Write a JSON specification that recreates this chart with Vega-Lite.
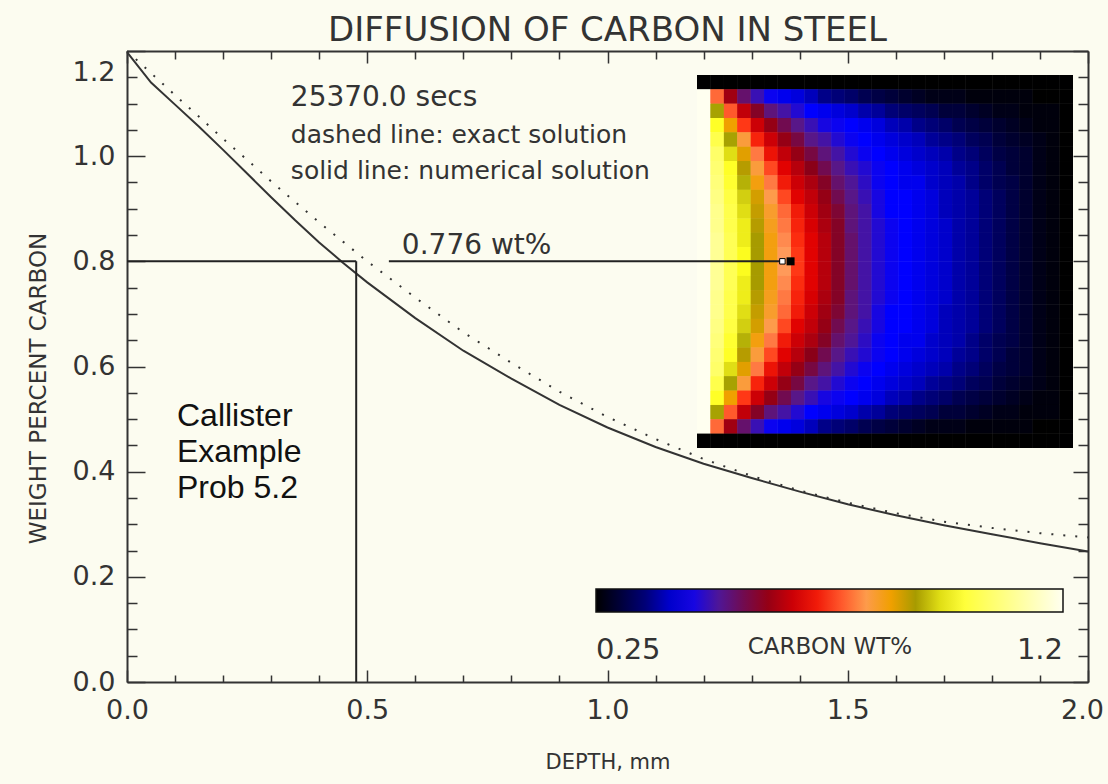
{
"$schema": "https://vega.github.io/schema/vega-lite/v6.json",
"width": 961,
"height": 631,
"autosize": {"type": "none"},
"padding": {"left": 127, "top": 51, "right": 20, "bottom": 102},
"background": "#fcfcf0",
"config": {"view": {"stroke": null}, "axis": {"grid": false, "labelFont": "DejaVu Sans", "titleFont": "DejaVu Sans"}, "legend": {"labelFont": "DejaVu Sans", "titleFont": "DejaVu Sans"}},
"title": {"text": "DIFFUSION OF CARBON IN STEEL", "fontSize": 34, "font": "DejaVu Sans", "fontWeight": "normal", "color": "#333333", "offset": -1, "anchor": "middle"},
"datasets": {
"exact": [{"d":0,"w":1.2},{"d":0.05,"w":1.158},{"d":0.1,"w":1.116},{"d":0.15,"w":1.075},{"d":0.2,"w":1.033},{"d":0.25,"w":0.993},{"d":0.3,"w":0.952},{"d":0.35,"w":0.913},{"d":0.4,"w":0.874},{"d":0.45,"w":0.837},{"d":0.5,"w":0.8},{"d":0.6,"w":0.731},{"d":0.7,"w":0.665},{"d":0.8,"w":0.607},{"d":0.9,"w":0.552},{"d":1.0,"w":0.504},{"d":1.1,"w":0.462},{"d":1.2,"w":0.424},{"d":1.3,"w":0.392},{"d":1.4,"w":0.364},{"d":1.5,"w":0.341},{"d":1.6,"w":0.321},{"d":1.7,"w":0.305},{"d":1.8,"w":0.293},{"d":1.9,"w":0.283},{"d":2.0,"w":0.275}],
"numerical": [{"d":0,"w":1.198},{"d":0.05,"w":1.14},{"d":0.1,"w":1.098},{"d":0.15,"w":1.056},{"d":0.2,"w":1.012},{"d":0.25,"w":0.967},{"d":0.3,"w":0.922},{"d":0.35,"w":0.878},{"d":0.4,"w":0.836},{"d":0.45,"w":0.797},{"d":0.5,"w":0.76},{"d":0.6,"w":0.692},{"d":0.7,"w":0.63},{"d":0.8,"w":0.577},{"d":0.9,"w":0.527},{"d":1.0,"w":0.484},{"d":1.1,"w":0.447},{"d":1.2,"w":0.415},{"d":1.3,"w":0.388},{"d":1.4,"w":0.362},{"d":1.5,"w":0.338},{"d":1.6,"w":0.317},{"d":1.7,"w":0.298},{"d":1.8,"w":0.281},{"d":1.9,"w":0.264},{"d":2.0,"w":0.248}],
"guides": [{"d1":0,"d2":0.477,"w1":0.8,"w2":0.8},{"d1":0.477,"d2":0.477,"w1":0.8,"w2":0},{"d1":0.545,"d2":1.359,"w1":0.8,"w2":0.8}],
"mark_fill": [{"d":1.381,"w":0.8}],
"mark_open": [{"d":1.364,"w":0.8}],
"label_time": [{"d":0.341,"w":1.095,"label":"25370.0 secs"}],
"label_lines": [{"d":0.341,"w":1.0247,"label":"dashed line: exact solution"},{"d":0.341,"w":0.956,"label":"solid line: numerical solution"}],
"label_wt": [{"d":0.572,"w":0.814,"label":"0.776 wt%"}],
"label_prob": [{"d":0.104,"w":0.4877,"label":"Callister"},{"d":0.104,"w":0.4175,"label":"Example"},{"d":0.104,"w":0.349,"label":"Prob 5.2"}],
"field": [
{"c":0,"r":0,"v":0.25},{"c":1,"r":0,"v":0.25},{"c":2,"r":0,"v":0.25},{"c":3,"r":0,"v":0.25},{"c":4,"r":0,"v":0.25},{"c":5,"r":0,"v":0.25},{"c":6,"r":0,"v":0.25},{"c":7,"r":0,"v":0.25},{"c":8,"r":0,"v":0.25},{"c":9,"r":0,"v":0.25},{"c":10,"r":0,"v":0.25},{"c":11,"r":0,"v":0.25},{"c":12,"r":0,"v":0.25},{"c":13,"r":0,"v":0.25},{"c":14,"r":0,"v":0.25},{"c":15,"r":0,"v":0.25},{"c":16,"r":0,"v":0.25},{"c":17,"r":0,"v":0.25},{"c":18,"r":0,"v":0.25},{"c":19,"r":0,"v":0.25},{"c":20,"r":0,"v":0.25},{"c":21,"r":0,"v":0.25},{"c":22,"r":0,"v":0.25},{"c":23,"r":0,"v":0.25},{"c":24,"r":0,"v":0.25},{"c":25,"r":0,"v":0.25},{"c":26,"r":0,"v":0.25},{"c":27,"r":0,"v":0.25},
{"c":0,"r":1,"v":1.2},{"c":1,"r":1,"v":0.76},{"c":2,"r":1,"v":0.61},{"c":3,"r":1,"v":0.53},{"c":4,"r":1,"v":0.48},{"c":5,"r":1,"v":0.44},{"c":6,"r":1,"v":0.42},{"c":7,"r":1,"v":0.41},{"c":8,"r":1,"v":0.39},{"c":9,"r":1,"v":0.36},{"c":10,"r":1,"v":0.35},{"c":11,"r":1,"v":0.34},{"c":12,"r":1,"v":0.32},{"c":13,"r":1,"v":0.31},{"c":14,"r":1,"v":0.3},{"c":15,"r":1,"v":0.29},{"c":16,"r":1,"v":0.28},{"c":17,"r":1,"v":0.27},{"c":18,"r":1,"v":0.27},{"c":19,"r":1,"v":0.27},{"c":20,"r":1,"v":0.26},{"c":21,"r":1,"v":0.26},{"c":22,"r":1,"v":0.26},{"c":23,"r":1,"v":0.26},{"c":24,"r":1,"v":0.26},{"c":25,"r":1,"v":0.25},{"c":26,"r":1,"v":0.25},{"c":27,"r":1,"v":0.25},
{"c":0,"r":2,"v":1.2},{"c":1,"r":2,"v":0.91},{"c":2,"r":2,"v":0.75},{"c":3,"r":2,"v":0.64},{"c":4,"r":2,"v":0.58},{"c":5,"r":2,"v":0.52},{"c":6,"r":2,"v":0.49},{"c":7,"r":2,"v":0.46},{"c":8,"r":2,"v":0.43},{"c":9,"r":2,"v":0.42},{"c":10,"r":2,"v":0.41},{"c":11,"r":2,"v":0.4},{"c":12,"r":2,"v":0.38},{"c":13,"r":2,"v":0.37},{"c":14,"r":2,"v":0.35},{"c":15,"r":2,"v":0.34},{"c":16,"r":2,"v":0.33},{"c":17,"r":2,"v":0.32},{"c":18,"r":2,"v":0.3},{"c":19,"r":2,"v":0.3},{"c":20,"r":2,"v":0.29},{"c":21,"r":2,"v":0.28},{"c":22,"r":2,"v":0.27},{"c":23,"r":2,"v":0.27},{"c":24,"r":2,"v":0.26},{"c":25,"r":2,"v":0.26},{"c":26,"r":2,"v":0.26},{"c":27,"r":2,"v":0.25},
{"c":0,"r":3,"v":1.2},{"c":1,"r":3,"v":0.98},{"c":2,"r":3,"v":0.85},{"c":3,"r":3,"v":0.73},{"c":4,"r":3,"v":0.65},{"c":5,"r":3,"v":0.6},{"c":6,"r":3,"v":0.55},{"c":7,"r":3,"v":0.51},{"c":8,"r":3,"v":0.48},{"c":9,"r":3,"v":0.45},{"c":10,"r":3,"v":0.44},{"c":11,"r":3,"v":0.43},{"c":12,"r":3,"v":0.42},{"c":13,"r":3,"v":0.41},{"c":14,"r":3,"v":0.39},{"c":15,"r":3,"v":0.38},{"c":16,"r":3,"v":0.36},{"c":17,"r":3,"v":0.35},{"c":18,"r":3,"v":0.34},{"c":19,"r":3,"v":0.32},{"c":20,"r":3,"v":0.31},{"c":21,"r":3,"v":0.3},{"c":22,"r":3,"v":0.29},{"c":23,"r":3,"v":0.28},{"c":24,"r":3,"v":0.27},{"c":25,"r":3,"v":0.26},{"c":26,"r":3,"v":0.26},{"c":27,"r":3,"v":0.25},
{"c":0,"r":4,"v":1.2},{"c":1,"r":4,"v":1.02},{"c":2,"r":4,"v":0.91},{"c":3,"r":4,"v":0.81},{"c":4,"r":4,"v":0.71},{"c":5,"r":4,"v":0.65},{"c":6,"r":4,"v":0.6},{"c":7,"r":4,"v":0.56},{"c":8,"r":4,"v":0.51},{"c":9,"r":4,"v":0.49},{"c":10,"r":4,"v":0.46},{"c":11,"r":4,"v":0.44},{"c":12,"r":4,"v":0.43},{"c":13,"r":4,"v":0.42},{"c":14,"r":4,"v":0.41},{"c":15,"r":4,"v":0.4},{"c":16,"r":4,"v":0.39},{"c":17,"r":4,"v":0.37},{"c":18,"r":4,"v":0.36},{"c":19,"r":4,"v":0.35},{"c":20,"r":4,"v":0.33},{"c":21,"r":4,"v":0.32},{"c":22,"r":4,"v":0.3},{"c":23,"r":4,"v":0.29},{"c":24,"r":4,"v":0.28},{"c":25,"r":4,"v":0.27},{"c":26,"r":4,"v":0.26},{"c":27,"r":4,"v":0.25},
{"c":0,"r":5,"v":1.2},{"c":1,"r":5,"v":1.05},{"c":2,"r":5,"v":0.95},{"c":3,"r":5,"v":0.86},{"c":4,"r":5,"v":0.77},{"c":5,"r":5,"v":0.69},{"c":6,"r":5,"v":0.64},{"c":7,"r":5,"v":0.6},{"c":8,"r":5,"v":0.56},{"c":9,"r":5,"v":0.52},{"c":10,"r":5,"v":0.49},{"c":11,"r":5,"v":0.46},{"c":12,"r":5,"v":0.44},{"c":13,"r":5,"v":0.43},{"c":14,"r":5,"v":0.42},{"c":15,"r":5,"v":0.41},{"c":16,"r":5,"v":0.4},{"c":17,"r":5,"v":0.39},{"c":18,"r":5,"v":0.38},{"c":19,"r":5,"v":0.36},{"c":20,"r":5,"v":0.35},{"c":21,"r":5,"v":0.33},{"c":22,"r":5,"v":0.31},{"c":23,"r":5,"v":0.3},{"c":24,"r":5,"v":0.29},{"c":25,"r":5,"v":0.27},{"c":26,"r":5,"v":0.26},{"c":27,"r":5,"v":0.25},
{"c":0,"r":6,"v":1.2},{"c":1,"r":6,"v":1.06},{"c":2,"r":6,"v":0.98},{"c":3,"r":6,"v":0.89},{"c":4,"r":6,"v":0.81},{"c":5,"r":6,"v":0.74},{"c":6,"r":6,"v":0.67},{"c":7,"r":6,"v":0.63},{"c":8,"r":6,"v":0.59},{"c":9,"r":6,"v":0.55},{"c":10,"r":6,"v":0.51},{"c":11,"r":6,"v":0.48},{"c":12,"r":6,"v":0.46},{"c":13,"r":6,"v":0.44},{"c":14,"r":6,"v":0.43},{"c":15,"r":6,"v":0.42},{"c":16,"r":6,"v":0.41},{"c":17,"r":6,"v":0.4},{"c":18,"r":6,"v":0.39},{"c":19,"r":6,"v":0.37},{"c":20,"r":6,"v":0.36},{"c":21,"r":6,"v":0.34},{"c":22,"r":6,"v":0.32},{"c":23,"r":6,"v":0.3},{"c":24,"r":6,"v":0.29},{"c":25,"r":6,"v":0.27},{"c":26,"r":6,"v":0.26},{"c":27,"r":6,"v":0.25},
{"c":0,"r":7,"v":1.2},{"c":1,"r":7,"v":1.07},{"c":2,"r":7,"v":0.99},{"c":3,"r":7,"v":0.92},{"c":4,"r":7,"v":0.84},{"c":5,"r":7,"v":0.77},{"c":6,"r":7,"v":0.7},{"c":7,"r":7,"v":0.65},{"c":8,"r":7,"v":0.62},{"c":9,"r":7,"v":0.58},{"c":10,"r":7,"v":0.53},{"c":11,"r":7,"v":0.5},{"c":12,"r":7,"v":0.47},{"c":13,"r":7,"v":0.44},{"c":14,"r":7,"v":0.43},{"c":15,"r":7,"v":0.42},{"c":16,"r":7,"v":0.42},{"c":17,"r":7,"v":0.4},{"c":18,"r":7,"v":0.39},{"c":19,"r":7,"v":0.38},{"c":20,"r":7,"v":0.36},{"c":21,"r":7,"v":0.34},{"c":22,"r":7,"v":0.32},{"c":23,"r":7,"v":0.31},{"c":24,"r":7,"v":0.29},{"c":25,"r":7,"v":0.27},{"c":26,"r":7,"v":0.26},{"c":27,"r":7,"v":0.25},
{"c":0,"r":8,"v":1.2},{"c":1,"r":8,"v":1.08},{"c":2,"r":8,"v":1.01},{"c":3,"r":8,"v":0.94},{"c":4,"r":8,"v":0.87},{"c":5,"r":8,"v":0.8},{"c":6,"r":8,"v":0.74},{"c":7,"r":8,"v":0.67},{"c":8,"r":8,"v":0.64},{"c":9,"r":8,"v":0.6},{"c":10,"r":8,"v":0.55},{"c":11,"r":8,"v":0.51},{"c":12,"r":8,"v":0.48},{"c":13,"r":8,"v":0.45},{"c":14,"r":8,"v":0.43},{"c":15,"r":8,"v":0.43},{"c":16,"r":8,"v":0.42},{"c":17,"r":8,"v":0.41},{"c":18,"r":8,"v":0.39},{"c":19,"r":8,"v":0.38},{"c":20,"r":8,"v":0.37},{"c":21,"r":8,"v":0.35},{"c":22,"r":8,"v":0.33},{"c":23,"r":8,"v":0.31},{"c":24,"r":8,"v":0.29},{"c":25,"r":8,"v":0.27},{"c":26,"r":8,"v":0.26},{"c":27,"r":8,"v":0.25},
{"c":0,"r":9,"v":1.2},{"c":1,"r":9,"v":1.09},{"c":2,"r":9,"v":1.02},{"c":3,"r":9,"v":0.95},{"c":4,"r":9,"v":0.88},{"c":5,"r":9,"v":0.82},{"c":6,"r":9,"v":0.76},{"c":7,"r":9,"v":0.7},{"c":8,"r":9,"v":0.65},{"c":9,"r":9,"v":0.61},{"c":10,"r":9,"v":0.57},{"c":11,"r":9,"v":0.52},{"c":12,"r":9,"v":0.49},{"c":13,"r":9,"v":0.45},{"c":14,"r":9,"v":0.43},{"c":15,"r":9,"v":0.43},{"c":16,"r":9,"v":0.42},{"c":17,"r":9,"v":0.41},{"c":18,"r":9,"v":0.39},{"c":19,"r":9,"v":0.38},{"c":20,"r":9,"v":0.37},{"c":21,"r":9,"v":0.35},{"c":22,"r":9,"v":0.33},{"c":23,"r":9,"v":0.31},{"c":24,"r":9,"v":0.29},{"c":25,"r":9,"v":0.27},{"c":26,"r":9,"v":0.26},{"c":27,"r":9,"v":0.25},
{"c":0,"r":10,"v":1.2},{"c":1,"r":10,"v":1.09},{"c":2,"r":10,"v":1.02},{"c":3,"r":10,"v":0.96},{"c":4,"r":10,"v":0.89},{"c":5,"r":10,"v":0.83},{"c":6,"r":10,"v":0.77},{"c":7,"r":10,"v":0.71},{"c":8,"r":10,"v":0.66},{"c":9,"r":10,"v":0.62},{"c":10,"r":10,"v":0.58},{"c":11,"r":10,"v":0.52},{"c":12,"r":10,"v":0.49},{"c":13,"r":10,"v":0.46},{"c":14,"r":10,"v":0.44},{"c":15,"r":10,"v":0.43},{"c":16,"r":10,"v":0.42},{"c":17,"r":10,"v":0.41},{"c":18,"r":10,"v":0.4},{"c":19,"r":10,"v":0.38},{"c":20,"r":10,"v":0.37},{"c":21,"r":10,"v":0.35},{"c":22,"r":10,"v":0.33},{"c":23,"r":10,"v":0.31},{"c":24,"r":10,"v":0.29},{"c":25,"r":10,"v":0.27},{"c":26,"r":10,"v":0.26},{"c":27,"r":10,"v":0.25},
{"c":0,"r":11,"v":1.2},{"c":1,"r":11,"v":1.1},{"c":2,"r":11,"v":1.03},{"c":3,"r":11,"v":0.96},{"c":4,"r":11,"v":0.9},{"c":5,"r":11,"v":0.84},{"c":6,"r":11,"v":0.78},{"c":7,"r":11,"v":0.72},{"c":8,"r":11,"v":0.67},{"c":9,"r":11,"v":0.63},{"c":10,"r":11,"v":0.58},{"c":11,"r":11,"v":0.53},{"c":12,"r":11,"v":0.49},{"c":13,"r":11,"v":0.46},{"c":14,"r":11,"v":0.44},{"c":15,"r":11,"v":0.43},{"c":16,"r":11,"v":0.42},{"c":17,"r":11,"v":0.41},{"c":18,"r":11,"v":0.4},{"c":19,"r":11,"v":0.38},{"c":20,"r":11,"v":0.37},{"c":21,"r":11,"v":0.35},{"c":22,"r":11,"v":0.33},{"c":23,"r":11,"v":0.31},{"c":24,"r":11,"v":0.29},{"c":25,"r":11,"v":0.27},{"c":26,"r":11,"v":0.26},{"c":27,"r":11,"v":0.25},
{"c":0,"r":12,"v":1.2},{"c":1,"r":12,"v":1.1},{"c":2,"r":12,"v":1.03},{"c":3,"r":12,"v":0.97},{"c":4,"r":12,"v":0.9},{"c":5,"r":12,"v":0.84},{"c":6,"r":12,"v":0.79},{"c":7,"r":12,"v":0.73},{"c":8,"r":12,"v":0.67},{"c":9,"r":12,"v":0.63},{"c":10,"r":12,"v":0.58},{"c":11,"r":12,"v":0.53},{"c":12,"r":12,"v":0.49},{"c":13,"r":12,"v":0.46},{"c":14,"r":12,"v":0.44},{"c":15,"r":12,"v":0.43},{"c":16,"r":12,"v":0.42},{"c":17,"r":12,"v":0.41},{"c":18,"r":12,"v":0.4},{"c":19,"r":12,"v":0.38},{"c":20,"r":12,"v":0.37},{"c":21,"r":12,"v":0.35},{"c":22,"r":12,"v":0.33},{"c":23,"r":12,"v":0.31},{"c":24,"r":12,"v":0.29},{"c":25,"r":12,"v":0.27},{"c":26,"r":12,"v":0.26},{"c":27,"r":12,"v":0.25},
{"c":0,"r":13,"v":1.2},{"c":1,"r":13,"v":1.1},{"c":2,"r":13,"v":1.03},{"c":3,"r":13,"v":0.97},{"c":4,"r":13,"v":0.9},{"c":5,"r":13,"v":0.84},{"c":6,"r":13,"v":0.79},{"c":7,"r":13,"v":0.73},{"c":8,"r":13,"v":0.67},{"c":9,"r":13,"v":0.63},{"c":10,"r":13,"v":0.58},{"c":11,"r":13,"v":0.53},{"c":12,"r":13,"v":0.49},{"c":13,"r":13,"v":0.46},{"c":14,"r":13,"v":0.44},{"c":15,"r":13,"v":0.43},{"c":16,"r":13,"v":0.42},{"c":17,"r":13,"v":0.41},{"c":18,"r":13,"v":0.4},{"c":19,"r":13,"v":0.38},{"c":20,"r":13,"v":0.37},{"c":21,"r":13,"v":0.35},{"c":22,"r":13,"v":0.33},{"c":23,"r":13,"v":0.31},{"c":24,"r":13,"v":0.29},{"c":25,"r":13,"v":0.27},{"c":26,"r":13,"v":0.26},{"c":27,"r":13,"v":0.25},
{"c":0,"r":14,"v":1.2},{"c":1,"r":14,"v":1.1},{"c":2,"r":14,"v":1.03},{"c":3,"r":14,"v":0.96},{"c":4,"r":14,"v":0.9},{"c":5,"r":14,"v":0.84},{"c":6,"r":14,"v":0.78},{"c":7,"r":14,"v":0.72},{"c":8,"r":14,"v":0.67},{"c":9,"r":14,"v":0.63},{"c":10,"r":14,"v":0.58},{"c":11,"r":14,"v":0.53},{"c":12,"r":14,"v":0.49},{"c":13,"r":14,"v":0.46},{"c":14,"r":14,"v":0.44},{"c":15,"r":14,"v":0.43},{"c":16,"r":14,"v":0.42},{"c":17,"r":14,"v":0.41},{"c":18,"r":14,"v":0.4},{"c":19,"r":14,"v":0.38},{"c":20,"r":14,"v":0.37},{"c":21,"r":14,"v":0.35},{"c":22,"r":14,"v":0.33},{"c":23,"r":14,"v":0.31},{"c":24,"r":14,"v":0.29},{"c":25,"r":14,"v":0.27},{"c":26,"r":14,"v":0.26},{"c":27,"r":14,"v":0.25},
{"c":0,"r":15,"v":1.2},{"c":1,"r":15,"v":1.09},{"c":2,"r":15,"v":1.02},{"c":3,"r":15,"v":0.96},{"c":4,"r":15,"v":0.89},{"c":5,"r":15,"v":0.83},{"c":6,"r":15,"v":0.77},{"c":7,"r":15,"v":0.71},{"c":8,"r":15,"v":0.66},{"c":9,"r":15,"v":0.62},{"c":10,"r":15,"v":0.58},{"c":11,"r":15,"v":0.52},{"c":12,"r":15,"v":0.49},{"c":13,"r":15,"v":0.46},{"c":14,"r":15,"v":0.44},{"c":15,"r":15,"v":0.43},{"c":16,"r":15,"v":0.42},{"c":17,"r":15,"v":0.41},{"c":18,"r":15,"v":0.4},{"c":19,"r":15,"v":0.38},{"c":20,"r":15,"v":0.37},{"c":21,"r":15,"v":0.35},{"c":22,"r":15,"v":0.33},{"c":23,"r":15,"v":0.31},{"c":24,"r":15,"v":0.29},{"c":25,"r":15,"v":0.27},{"c":26,"r":15,"v":0.26},{"c":27,"r":15,"v":0.25},
{"c":0,"r":16,"v":1.2},{"c":1,"r":16,"v":1.09},{"c":2,"r":16,"v":1.02},{"c":3,"r":16,"v":0.95},{"c":4,"r":16,"v":0.88},{"c":5,"r":16,"v":0.82},{"c":6,"r":16,"v":0.76},{"c":7,"r":16,"v":0.7},{"c":8,"r":16,"v":0.65},{"c":9,"r":16,"v":0.61},{"c":10,"r":16,"v":0.57},{"c":11,"r":16,"v":0.52},{"c":12,"r":16,"v":0.49},{"c":13,"r":16,"v":0.45},{"c":14,"r":16,"v":0.43},{"c":15,"r":16,"v":0.43},{"c":16,"r":16,"v":0.42},{"c":17,"r":16,"v":0.41},{"c":18,"r":16,"v":0.39},{"c":19,"r":16,"v":0.38},{"c":20,"r":16,"v":0.37},{"c":21,"r":16,"v":0.35},{"c":22,"r":16,"v":0.33},{"c":23,"r":16,"v":0.31},{"c":24,"r":16,"v":0.29},{"c":25,"r":16,"v":0.27},{"c":26,"r":16,"v":0.26},{"c":27,"r":16,"v":0.25},
{"c":0,"r":17,"v":1.2},{"c":1,"r":17,"v":1.08},{"c":2,"r":17,"v":1.01},{"c":3,"r":17,"v":0.94},{"c":4,"r":17,"v":0.87},{"c":5,"r":17,"v":0.8},{"c":6,"r":17,"v":0.74},{"c":7,"r":17,"v":0.67},{"c":8,"r":17,"v":0.64},{"c":9,"r":17,"v":0.6},{"c":10,"r":17,"v":0.55},{"c":11,"r":17,"v":0.51},{"c":12,"r":17,"v":0.48},{"c":13,"r":17,"v":0.45},{"c":14,"r":17,"v":0.43},{"c":15,"r":17,"v":0.43},{"c":16,"r":17,"v":0.42},{"c":17,"r":17,"v":0.41},{"c":18,"r":17,"v":0.39},{"c":19,"r":17,"v":0.38},{"c":20,"r":17,"v":0.37},{"c":21,"r":17,"v":0.35},{"c":22,"r":17,"v":0.33},{"c":23,"r":17,"v":0.31},{"c":24,"r":17,"v":0.29},{"c":25,"r":17,"v":0.27},{"c":26,"r":17,"v":0.26},{"c":27,"r":17,"v":0.25},
{"c":0,"r":18,"v":1.2},{"c":1,"r":18,"v":1.07},{"c":2,"r":18,"v":0.99},{"c":3,"r":18,"v":0.92},{"c":4,"r":18,"v":0.84},{"c":5,"r":18,"v":0.77},{"c":6,"r":18,"v":0.7},{"c":7,"r":18,"v":0.65},{"c":8,"r":18,"v":0.62},{"c":9,"r":18,"v":0.58},{"c":10,"r":18,"v":0.53},{"c":11,"r":18,"v":0.5},{"c":12,"r":18,"v":0.47},{"c":13,"r":18,"v":0.44},{"c":14,"r":18,"v":0.43},{"c":15,"r":18,"v":0.42},{"c":16,"r":18,"v":0.42},{"c":17,"r":18,"v":0.4},{"c":18,"r":18,"v":0.39},{"c":19,"r":18,"v":0.38},{"c":20,"r":18,"v":0.36},{"c":21,"r":18,"v":0.34},{"c":22,"r":18,"v":0.32},{"c":23,"r":18,"v":0.31},{"c":24,"r":18,"v":0.29},{"c":25,"r":18,"v":0.27},{"c":26,"r":18,"v":0.26},{"c":27,"r":18,"v":0.25},
{"c":0,"r":19,"v":1.2},{"c":1,"r":19,"v":1.06},{"c":2,"r":19,"v":0.98},{"c":3,"r":19,"v":0.89},{"c":4,"r":19,"v":0.81},{"c":5,"r":19,"v":0.74},{"c":6,"r":19,"v":0.67},{"c":7,"r":19,"v":0.63},{"c":8,"r":19,"v":0.59},{"c":9,"r":19,"v":0.55},{"c":10,"r":19,"v":0.51},{"c":11,"r":19,"v":0.48},{"c":12,"r":19,"v":0.46},{"c":13,"r":19,"v":0.44},{"c":14,"r":19,"v":0.43},{"c":15,"r":19,"v":0.42},{"c":16,"r":19,"v":0.41},{"c":17,"r":19,"v":0.4},{"c":18,"r":19,"v":0.39},{"c":19,"r":19,"v":0.37},{"c":20,"r":19,"v":0.36},{"c":21,"r":19,"v":0.34},{"c":22,"r":19,"v":0.32},{"c":23,"r":19,"v":0.3},{"c":24,"r":19,"v":0.29},{"c":25,"r":19,"v":0.27},{"c":26,"r":19,"v":0.26},{"c":27,"r":19,"v":0.25},
{"c":0,"r":20,"v":1.2},{"c":1,"r":20,"v":1.05},{"c":2,"r":20,"v":0.95},{"c":3,"r":20,"v":0.86},{"c":4,"r":20,"v":0.77},{"c":5,"r":20,"v":0.69},{"c":6,"r":20,"v":0.64},{"c":7,"r":20,"v":0.6},{"c":8,"r":20,"v":0.56},{"c":9,"r":20,"v":0.52},{"c":10,"r":20,"v":0.49},{"c":11,"r":20,"v":0.46},{"c":12,"r":20,"v":0.44},{"c":13,"r":20,"v":0.43},{"c":14,"r":20,"v":0.42},{"c":15,"r":20,"v":0.41},{"c":16,"r":20,"v":0.4},{"c":17,"r":20,"v":0.39},{"c":18,"r":20,"v":0.38},{"c":19,"r":20,"v":0.36},{"c":20,"r":20,"v":0.35},{"c":21,"r":20,"v":0.33},{"c":22,"r":20,"v":0.31},{"c":23,"r":20,"v":0.3},{"c":24,"r":20,"v":0.29},{"c":25,"r":20,"v":0.27},{"c":26,"r":20,"v":0.26},{"c":27,"r":20,"v":0.25},
{"c":0,"r":21,"v":1.2},{"c":1,"r":21,"v":1.02},{"c":2,"r":21,"v":0.91},{"c":3,"r":21,"v":0.81},{"c":4,"r":21,"v":0.71},{"c":5,"r":21,"v":0.65},{"c":6,"r":21,"v":0.6},{"c":7,"r":21,"v":0.56},{"c":8,"r":21,"v":0.51},{"c":9,"r":21,"v":0.49},{"c":10,"r":21,"v":0.46},{"c":11,"r":21,"v":0.44},{"c":12,"r":21,"v":0.43},{"c":13,"r":21,"v":0.42},{"c":14,"r":21,"v":0.41},{"c":15,"r":21,"v":0.4},{"c":16,"r":21,"v":0.39},{"c":17,"r":21,"v":0.37},{"c":18,"r":21,"v":0.36},{"c":19,"r":21,"v":0.35},{"c":20,"r":21,"v":0.33},{"c":21,"r":21,"v":0.32},{"c":22,"r":21,"v":0.3},{"c":23,"r":21,"v":0.29},{"c":24,"r":21,"v":0.28},{"c":25,"r":21,"v":0.27},{"c":26,"r":21,"v":0.26},{"c":27,"r":21,"v":0.25},
{"c":0,"r":22,"v":1.2},{"c":1,"r":22,"v":0.98},{"c":2,"r":22,"v":0.85},{"c":3,"r":22,"v":0.73},{"c":4,"r":22,"v":0.65},{"c":5,"r":22,"v":0.6},{"c":6,"r":22,"v":0.55},{"c":7,"r":22,"v":0.51},{"c":8,"r":22,"v":0.48},{"c":9,"r":22,"v":0.45},{"c":10,"r":22,"v":0.44},{"c":11,"r":22,"v":0.43},{"c":12,"r":22,"v":0.42},{"c":13,"r":22,"v":0.41},{"c":14,"r":22,"v":0.39},{"c":15,"r":22,"v":0.38},{"c":16,"r":22,"v":0.36},{"c":17,"r":22,"v":0.35},{"c":18,"r":22,"v":0.34},{"c":19,"r":22,"v":0.32},{"c":20,"r":22,"v":0.31},{"c":21,"r":22,"v":0.3},{"c":22,"r":22,"v":0.29},{"c":23,"r":22,"v":0.28},{"c":24,"r":22,"v":0.27},{"c":25,"r":22,"v":0.26},{"c":26,"r":22,"v":0.26},{"c":27,"r":22,"v":0.25},
{"c":0,"r":23,"v":1.2},{"c":1,"r":23,"v":0.91},{"c":2,"r":23,"v":0.75},{"c":3,"r":23,"v":0.64},{"c":4,"r":23,"v":0.58},{"c":5,"r":23,"v":0.52},{"c":6,"r":23,"v":0.49},{"c":7,"r":23,"v":0.46},{"c":8,"r":23,"v":0.43},{"c":9,"r":23,"v":0.42},{"c":10,"r":23,"v":0.41},{"c":11,"r":23,"v":0.4},{"c":12,"r":23,"v":0.38},{"c":13,"r":23,"v":0.37},{"c":14,"r":23,"v":0.35},{"c":15,"r":23,"v":0.34},{"c":16,"r":23,"v":0.33},{"c":17,"r":23,"v":0.32},{"c":18,"r":23,"v":0.3},{"c":19,"r":23,"v":0.3},{"c":20,"r":23,"v":0.29},{"c":21,"r":23,"v":0.28},{"c":22,"r":23,"v":0.27},{"c":23,"r":23,"v":0.27},{"c":24,"r":23,"v":0.26},{"c":25,"r":23,"v":0.26},{"c":26,"r":23,"v":0.26},{"c":27,"r":23,"v":0.25},
{"c":0,"r":24,"v":1.2},{"c":1,"r":24,"v":0.76},{"c":2,"r":24,"v":0.61},{"c":3,"r":24,"v":0.53},{"c":4,"r":24,"v":0.48},{"c":5,"r":24,"v":0.44},{"c":6,"r":24,"v":0.42},{"c":7,"r":24,"v":0.41},{"c":8,"r":24,"v":0.39},{"c":9,"r":24,"v":0.36},{"c":10,"r":24,"v":0.35},{"c":11,"r":24,"v":0.34},{"c":12,"r":24,"v":0.32},{"c":13,"r":24,"v":0.31},{"c":14,"r":24,"v":0.3},{"c":15,"r":24,"v":0.29},{"c":16,"r":24,"v":0.28},{"c":17,"r":24,"v":0.27},{"c":18,"r":24,"v":0.27},{"c":19,"r":24,"v":0.27},{"c":20,"r":24,"v":0.26},{"c":21,"r":24,"v":0.26},{"c":22,"r":24,"v":0.26},{"c":23,"r":24,"v":0.26},{"c":24,"r":24,"v":0.26},{"c":25,"r":24,"v":0.25},{"c":26,"r":24,"v":0.25},{"c":27,"r":24,"v":0.25},
{"c":0,"r":25,"v":0.25},{"c":1,"r":25,"v":0.25},{"c":2,"r":25,"v":0.25},{"c":3,"r":25,"v":0.25},{"c":4,"r":25,"v":0.25},{"c":5,"r":25,"v":0.25},{"c":6,"r":25,"v":0.25},{"c":7,"r":25,"v":0.25},{"c":8,"r":25,"v":0.25},{"c":9,"r":25,"v":0.25},{"c":10,"r":25,"v":0.25},{"c":11,"r":25,"v":0.25},{"c":12,"r":25,"v":0.25},{"c":13,"r":25,"v":0.25},{"c":14,"r":25,"v":0.25},{"c":15,"r":25,"v":0.25},{"c":16,"r":25,"v":0.25},{"c":17,"r":25,"v":0.25},{"c":18,"r":25,"v":0.25},{"c":19,"r":25,"v":0.25},{"c":20,"r":25,"v":0.25},{"c":21,"r":25,"v":0.25},{"c":22,"r":25,"v":0.25},{"c":23,"r":25,"v":0.25},{"c":24,"r":25,"v":0.25},{"c":25,"r":25,"v":0.25},{"c":26,"r":25,"v":0.25},{"c":27,"r":25,"v":0.25}
]
},
"layer": [
{
"data": {"name": "field"},
"encoding": {
"x": {"field": "c", "type": "ordinal", "axis": null, "scale": {"range": [570, 946], "paddingInner": 0, "paddingOuter": 0}},
"y": {"field": "r", "type": "ordinal", "axis": null, "scale": {"range": [24, 397], "paddingInner": 0, "paddingOuter": 0}},
"color": {"field": "v", "type": "quantitative",
"scale": {"type": "linear", "zero": false, "clamp": true, "interpolate": "rgb",
"domain": [0.25, 0.345, 0.43, 0.505, 0.59, 0.668, 0.725, 0.79, 0.85, 0.905, 0.972, 1.105, 1.2],
"range": ["#000000", "#00006e", "#0000ff", "#55188f", "#8a0018", "#e00000", "#ff3010", "#ff9a5a", "#f0a000", "#a09a00", "#ffff20", "#ffff9a", "#fffff0"]},
"legend": {"type": "gradient", "orient": "none", "legendX": 469, "legendY": 538, "direction": "horizontal", "gradientLength": 467, "gradientThickness": 23, "gradientStrokeColor": "#111111", "gradientStrokeWidth": 1.5, "values": [0.25, 1.2], "format": "~g", "labelFontSize": 29, "labelColor": "#333333", "labelOffset": 24, "title": "CARBON WT%", "titleOrient": "bottom", "titleAnchor": "middle", "titleFontSize": 23, "titleFontWeight": "normal", "titleColor": "#333333", "titlePadding": -29}}
},
"layer": [
{"mark": {"type": "rect"}},
{"mark": {"type": "rect"}}
]
},
{
"resolve": {"axis": {"x": "independent", "y": "independent"}},
"layer": [
{
"data": {"name": "exact"},
"mark": {"type": "line", "color": "#333333", "strokeWidth": 2, "strokeDash": [2, 10]},
"encoding": {
"x": {"field": "d", "type": "quantitative", "scale": {"domain": [0, 2], "nice": false},
"axis": {"orient": "bottom", "values": [0, 0.5, 1, 1.5, 2], "format": ".1f", "tickSize": -12, "tickWidth": 1.5, "tickColor": "#333333", "domainColor": "#333333", "domainWidth": 2, "labelFontSize": 27, "labelColor": "#333333", "labelPadding": 27, "labelFlush": false, "labelOverlap": false, "labelOffset": {"condition": {"test": "datum.value >= 1.99", "value": -6}, "value": 0}, "title": "DEPTH, mm", "titleFontSize": 21, "titleFontWeight": "normal", "titleColor": "#333333", "titlePadding": 28}},
"y": {"field": "w", "type": "quantitative", "scale": {"domain": [0, 1.2], "nice": false},
"axis": {"orient": "left", "values": [0, 0.2, 0.4, 0.6, 0.8, 1.0, 1.2], "format": ".1f", "tickSize": -18, "tickWidth": 1.5, "tickColor": "#333333", "domainColor": "#333333", "domainWidth": 2, "labelFontSize": 27, "labelColor": "#333333", "labelPadding": 30, "labelFlush": false, "labelOverlap": false, "labelOffset": {"condition": {"test": "datum.value >= 1.19", "value": 21}, "value": 0}, "title": "WEIGHT PERCENT CARBON", "titleFontSize": 23, "titleFontWeight": "normal", "titleColor": "#333333", "titleX": -77, "titleY": 337}}
}
},
{
"data": {"name": "numerical"},
"mark": {"type": "line", "color": "#333333", "strokeWidth": 2},
"encoding": {
"x": {"field": "d", "type": "quantitative", "scale": {"domain": [0, 2], "nice": false},
"axis": {"orient": "bottom", "values": [0.1, 0.2, 0.3, 0.4, 0.6, 0.7, 0.8, 0.9, 1.1, 1.2, 1.3, 1.4, 1.6, 1.7, 1.8, 1.9], "tickSize": -7, "tickWidth": 1.5, "tickColor": "#333333", "labels": false, "domain": false, "title": null}},
"y": {"field": "w", "type": "quantitative", "scale": {"domain": [0, 1.2], "nice": false},
"axis": {"orient": "left", "values": [0.05, 0.1, 0.15, 0.25, 0.3, 0.35, 0.45, 0.5, 0.55, 0.65, 0.7, 0.75, 0.85, 0.9, 0.95, 1.05, 1.1, 1.15], "tickSize": -10, "tickWidth": 1.5, "tickColor": "#333333", "labels": false, "domain": false, "title": null}}
}
},
{
"data": {"name": "guides"},
"mark": {"type": "rule", "color": "#222222", "strokeWidth": 2},
"encoding": {
"x": {"field": "d1", "type": "quantitative", "scale": {"domain": [0, 2], "nice": false},
"axis": {"orient": "top", "values": [0, 0.5, 1, 1.5, 2], "tickSize": -12, "tickWidth": 1.5, "tickColor": "#333333", "domainColor": "#333333", "domainWidth": 2, "labels": false, "title": null}},
"x2": {"field": "d2"},
"y": {"field": "w1", "type": "quantitative", "scale": {"domain": [0, 1.2], "nice": false},
"axis": {"orient": "right", "values": [0, 0.2, 0.4, 0.6, 0.8, 1.0, 1.2], "tickSize": -15, "tickWidth": 1.5, "tickColor": "#333333", "domainColor": "#333333", "domainWidth": 2, "labels": false, "title": null}},
"y2": {"field": "w2"}
}
},
{
"data": {"name": "mark_fill"},
"mark": {"type": "point", "shape": "square", "filled": true, "color": "#000000", "size": 64, "opacity": 1},
"encoding": {
"x": {"field": "d", "type": "quantitative", "scale": {"domain": [0, 2], "nice": false},
"axis": {"orient": "top", "values": [0.1, 0.2, 0.3, 0.4, 0.6, 0.7, 0.8, 0.9, 1.1, 1.2, 1.3, 1.4, 1.6, 1.7, 1.8, 1.9], "tickSize": -8, "tickWidth": 1.5, "tickColor": "#333333", "labels": false, "domain": false, "title": null}},
"y": {"field": "w", "type": "quantitative", "scale": {"domain": [0, 1.2], "nice": false},
"axis": {"orient": "right", "values": [0.05, 0.1, 0.15, 0.25, 0.3, 0.35, 0.45, 0.5, 0.55, 0.65, 0.7, 0.75, 0.85, 0.9, 0.95, 1.05, 1.1, 1.15], "tickSize": -10, "tickWidth": 1.5, "tickColor": "#333333", "labels": false, "domain": false, "title": null}}
}
},
{
"data": {"name": "mark_open"},
"mark": {"type": "point", "shape": "square", "filled": true, "fill": "#ffffff", "stroke": "#000000", "strokeWidth": 1, "size": 30, "opacity": 1},
"encoding": {
"x": {"field": "d", "type": "quantitative", "axis": null},
"y": {"field": "w", "type": "quantitative", "axis": null}
}
},
{
"data": {"name": "label_time"},
"mark": {"type": "text", "align": "left", "baseline": "alphabetic", "font": "DejaVu Sans", "fontSize": 28, "color": "#333333"},
"encoding": {
"x": {"field": "d", "type": "quantitative", "axis": null},
"y": {"field": "w", "type": "quantitative", "axis": null},
"text": {"field": "label"}
}
},
{
"data": {"name": "label_lines"},
"mark": {"type": "text", "align": "left", "baseline": "alphabetic", "font": "DejaVu Sans", "fontSize": 25, "color": "#333333"},
"encoding": {
"x": {"field": "d", "type": "quantitative", "axis": null},
"y": {"field": "w", "type": "quantitative", "axis": null},
"text": {"field": "label"}
}
},
{
"data": {"name": "label_wt"},
"mark": {"type": "text", "align": "left", "baseline": "alphabetic", "font": "DejaVu Sans", "fontSize": 28, "color": "#333333"},
"encoding": {
"x": {"field": "d", "type": "quantitative", "axis": null},
"y": {"field": "w", "type": "quantitative", "axis": null},
"text": {"field": "label"}
}
},
{
"data": {"name": "label_prob"},
"mark": {"type": "text", "align": "left", "baseline": "alphabetic", "font": "Liberation Sans", "fontSize": 32, "color": "#111111"},
"encoding": {
"x": {"field": "d", "type": "quantitative", "axis": null},
"y": {"field": "w", "type": "quantitative", "axis": null},
"text": {"field": "label"}
}
}
]
}
],
"resolve": {"scale": {"x": "independent", "y": "independent"}}
}
